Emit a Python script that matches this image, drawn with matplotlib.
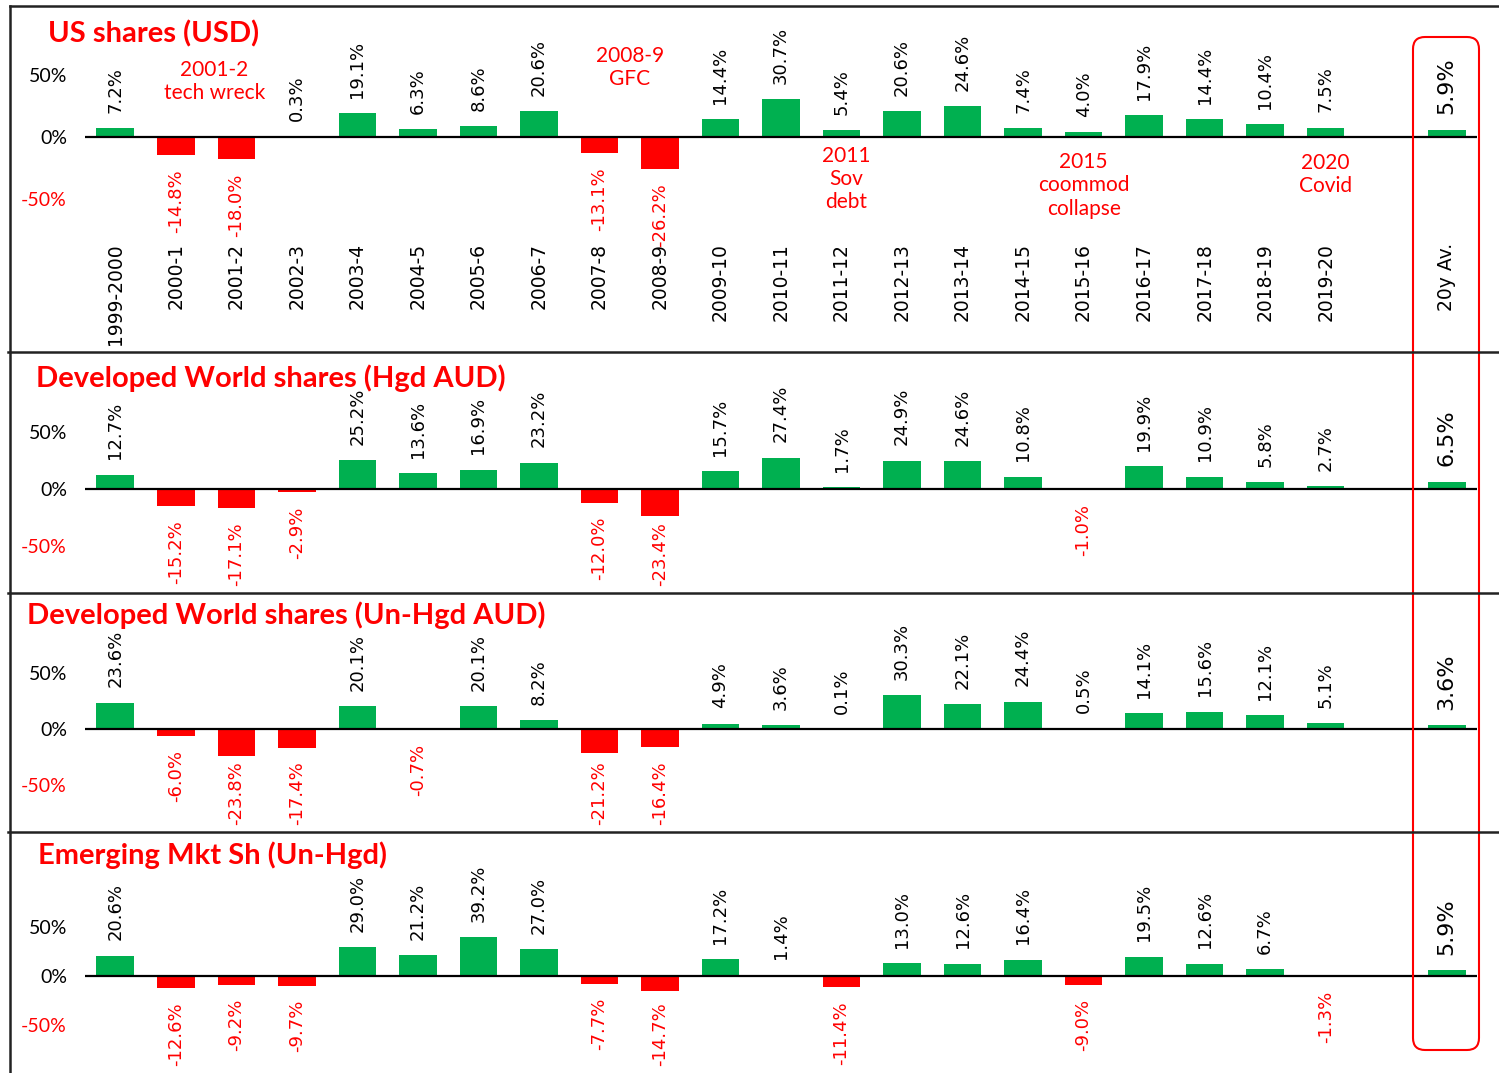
import numpy as np
import matplotlib.pyplot as plt
from matplotlib.patches import FancyBboxPatch
from matplotlib.lines import Line2D
from matplotlib.transforms import IdentityTransform

# ================= Data =================
periods = ['1999-2000', '2000-1', '2001-2', '2002-3', '2003-4', '2004-5', '2005-6',
           '2006-7', '2007-8', '2008-9', '2009-10', '2010-11', '2011-12', '2012-13',
           '2013-14', '2014-15', '2015-16', '2016-17', '2017-18', '2018-19', '2019-20']
avg_label = '20y Av.'

us_usd = [7.2, -14.8, -18.0, 0.3, 19.1, 6.3, 8.6, 20.6, -13.1, -26.2,
          14.4, 30.7, 5.4, 20.6, 24.6, 7.4, 4.0, 17.9, 14.4, 10.4, 7.5]
us_usd_avg = 5.9

dev_hgd = [12.7, -15.2, -17.1, -2.9, 25.2, 13.6, 16.9, 23.2, -12.0, -23.4,
           15.7, 27.4, 1.7, 24.9, 24.6, 10.8, -1.0, 19.9, 10.9, 5.8, 2.7]
dev_hgd_avg = 6.5

dev_unhgd = [23.6, -6.0, -23.8, -17.4, 20.1, -0.7, 20.1, 8.2, -21.2, -16.4,
             4.9, 3.6, 0.1, 30.3, 22.1, 24.4, 0.5, 14.1, 15.6, 12.1, 5.1]
dev_unhgd_avg = 3.6

em_unhgd = [20.6, -12.6, -9.2, -9.7, 29.0, 21.2, 39.2, 27.0, -7.7, -14.7,
            17.2, 1.4, -11.4, 13.0, 12.6, 16.4, -9.0, 19.5, 12.6, 6.7, -1.3]
em_unhgd_avg = 5.9

titles = ['US shares (USD)', 'Developed World shares (Hgd AUD)',
          'Developed World shares (Un-Hgd AUD)', 'Emerging Mkt Sh (Un-Hgd)']

# event notes on the top panel: (slot, y value, text)
events = [(1.64, 45, '2001-2\ntech wreck'), (8.5, 56, '2008-9\nGFC'),
          (12.07, -34, '2011\nSov\ndebt'), (16.0, -39, '2015\ncoommod\ncollapse'),
          (20.0, -30, '2020\nCovid')]

GREEN = '#00B050'
RED = '#FF0000'
NARROW = ['Lato', 'DejaVu Sans']

W, H = 1499, 1073
fig = plt.figure(figsize=(W / 100, H / 100), dpi=100)
fig.patch.set_facecolor('white')

# panel geometry in pixels: top, bottom, zero line, px per 1%, title x, title y
panels = [(6, 352, 137, 1.24, 48, 34),
          (352, 593, 489, 1.14, 36, 378),
          (593, 832, 729, 1.12, 27, 615),
          (832, 1073, 976, 0.99, 38, 855)]
series = [(us_usd, us_usd_avg), (dev_hgd, dev_hgd_avg),
          (dev_unhgd, dev_unhgd_avg), (em_unhgd, em_unhgd_avg)]

X0, X1 = 85, 1477
AVG_SLOT = len(periods) + 1

axes = []
neg_labels = []  # (annotation, lowest allowed pixel row from the top)
for (top, bottom, zero, scale, tx, ty), (vals, avg) in zip(panels, series):
    ax = fig.add_axes([X0 / W, 1 - bottom / H, (X1 - X0) / W, (bottom - top) / H])
    ax.set_xlim(-0.5, AVG_SLOT + 0.5)
    ax.set_ylim(-(bottom - zero) / scale, (zero - top) / scale)
    ax.patch.set_alpha(0)
    for s in ax.spines.values():
        s.set_visible(False)
    ax.set_xticks([])

    xs = list(range(len(vals))) + [AVG_SLOT]
    ys = list(vals) + [avg]
    colors = [GREEN if v >= 0 else RED for v in ys]
    ax.bar(xs, ys, width=0.62, color=colors, zorder=2)
    ax.axhline(0, color='black', lw=1.6, zorder=3)

    for x, v in zip(xs, ys):
        size = 16 if x == AVG_SLOT else 13
        if v >= 0:
            ax.annotate(f'{v:.1f}%', (x, v), xytext=(0, 11), textcoords='offset points',
                        rotation=90, ha='center', va='bottom', color='black',
                        fontsize=size)
        else:
            a = ax.annotate(f'{v:.1f}%', (x, v), xytext=(0, -10), textcoords='offset points',
                            rotation=90, ha='center', va='top', color=RED,
                            fontsize=size)
            neg_labels.append((a, bottom - 7))

    ax.set_yticks([50, 0, -50])
    ax.set_yticklabels(['50%', '0%', '-50%'], family=NARROW, fontsize=14)
    ax.get_yticklabels()[2].set_color(RED)
    ax.tick_params(axis='y', length=0, pad=13)

    fig.text(tx / W, 1 - ty / H, titles[len(axes)], color=RED, fontsize=21,
             fontweight='bold', family=NARROW, ha='left', va='center')
    axes.append(ax)

# category labels hang under the top panel's bars
ax = axes[0]
for i, p in enumerate(list(periods) + [avg_label]):
    x = i if i < len(periods) else AVG_SLOT
    ax.text(x, -85.5, p, rotation=90, ha='center', va='top', fontsize=13.5)

for x, y, t in events:
    ax.text(x, y, t, color=RED, ha='center', va='center', fontsize=15,
            family=NARROW, linespacing=1.2)

# keep long negative labels inside their panel
fig.canvas.draw()
renderer = fig.canvas.get_renderer()
for a, limit in neg_labels:
    bb = a.get_window_extent(renderer)
    low = H - limit
    if bb.y0 < low:
        dx, dy = a.xyann
        a.xyann = (dx, dy + (low - bb.y0) * 72 / fig.dpi)

# frame lines
tr = IdentityTransform()
def hline(y, x0=8, x1=W):
    fig.add_artist(Line2D([x0, x1], [H - y, H - y], color='#222222', lw=1.8, transform=tr))

hline(6, 10)
for y in (352, 593, 832):
    hline(y)
fig.add_artist(Line2D([10, 10], [H - 6, 0], color='#222222', lw=1.8, transform=tr))

# highlight box round the average column
box = FancyBboxPatch((1413, H - 1050), 66, 1013, boxstyle='round,pad=0,rounding_size=12',
                     fill=False, edgecolor=RED, lw=1.5, transform=tr)
fig.add_artist(box)

fig.savefig('out.png', dpi=100)
